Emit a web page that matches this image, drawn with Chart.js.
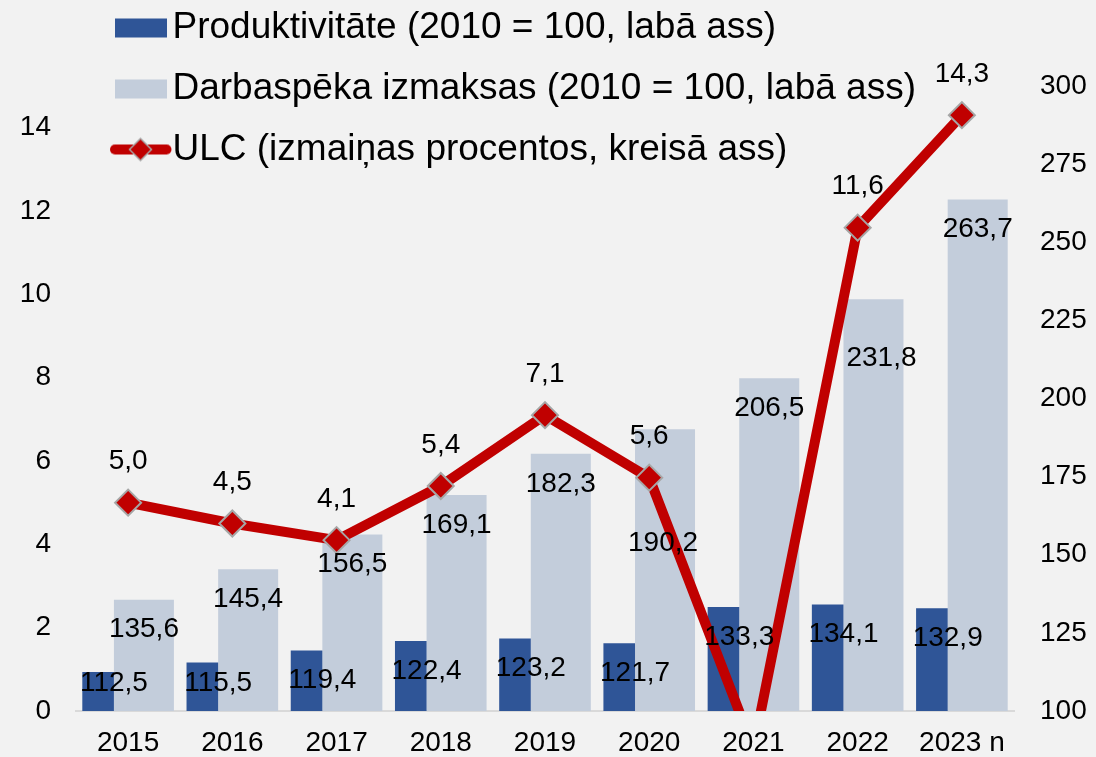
<!DOCTYPE html>
<html>
<head>
<meta charset="utf-8">
<script src="https://cdn.jsdelivr.net/npm/chart.js@4.4.1/dist/chart.umd.min.js"></script>
<style>
  html, body { margin: 0; padding: 0; background: #F2F2F2; }
  #wrap { width: 1096px; height: 757px; }
  canvas { display: block; }
</style>
</head>
<body>
<div id="wrap"><canvas id="c" width="1096" height="757"></canvas></div>
<script>
// ---- data ----
const categories = ['2015', '2016', '2017', '2018', '2019', '2020', '2021', '2022', '2023 n'];
const productivity = [112.5, 115.5, 119.4, 122.4, 123.2, 121.7, 133.3, 134.1, 132.9];
const labourCost = [135.6, 145.4, 156.5, 169.1, 182.3, 190.2, 206.5, 231.8, 263.7];
const ulcChange = [5.0, 4.5, 4.1, 5.4, 7.1, 5.6, -0.9, 11.6, 14.3];
const leftTicks = [0, 2, 4, 6, 8, 10, 12, 14];
const rightTicks = [100, 125, 150, 175, 200, 225, 250, 275, 300];
const seriesNames = [
  'Produktivitāte (2010 = 100, labā ass)',
  'Darbaspēka izmaksas (2010 = 100, labā ass)',
  'ULC (izmaiņas procentos, kreisā ass)'
];

// ---- styles ----
const FONT = '"Liberation Sans", Arial, sans-serif';
const DARK = '#2F5597', LIGHT = '#C3CDDB', RED = '#C00000', EDGE = '#A6A6A6';
Chart.defaults.color = '#000';
Chart.defaults.font.family = FONT;

// manual label nudges for light bars (as placed in the original)
const lightLabelNudge = { '2020': [-2, 84], '2022': [8, 29] };

function makeIcon(kind) {
  const c = document.createElement('canvas');
  c.width = 90; c.height = 30;
  const g = c.getContext('2d');
  if (kind === 'line') {
    g.strokeStyle = RED; g.lineWidth = 10; g.lineCap = 'round';
    g.beginPath(); g.moveTo(33, 15); g.lineTo(84.5, 15); g.stroke();
    const cx = 58.5, cy = 15, r = 11;
    g.beginPath(); g.moveTo(cx - r, cy); g.lineTo(cx, cy - r); g.lineTo(cx + r, cy); g.lineTo(cx, cy + r); g.closePath();
    g.fillStyle = RED; g.fill(); g.strokeStyle = EDGE; g.lineWidth = 1.5; g.stroke();
  } else {
    g.fillStyle = kind === 'dark' ? DARK : LIGHT;
    g.fillRect(33, 6, 52, 19);
  }
  return c;
}
const legendIcons = [makeIcon('dark'), makeIcon('light'), makeIcon('line')];
const legendDatasetIndex = [1, 2, 0];

// centre the (unequal-width) bar pair on its category
const barGroupCentering = {
  id: 'barGroupCentering',
  afterDatasetsUpdate(chart) {
    const metas = chart.getSortedVisibleDatasetMetas().filter(m => m.type === 'bar');
    if (metas.length < 2) return;
    const xs = chart.scales.x;
    metas[0].data.forEach((el, i) => {
      const other = metas[1].data[i];
      const left = el.x - el.width / 2;
      const right = other.x + other.width / 2;
      const shift = xs.getPixelForValue(i) - (left + right) / 2;
      metas.forEach(m => { m.data[i].x += shift; });
    });
  }
};

// let the legend overlap the plot (Excel-style floating legend)
const legendOverlay = {
  id: 'legendOverlay',
  afterLayout(chart) {
    const lg = chart.legend;
    if (lg) { lg.bottom = chart.height; lg.height = lg.bottom - lg.top; }
  }
};

const valueLabels = {
  id: 'valueLabels',
  afterDatasetsDraw(chart) {
    const { ctx, chartArea } = chart;
    ctx.save();
    ctx.font = '28px ' + FONT;
    ctx.fillStyle = '#000';
    ctx.textAlign = 'center';
    ctx.textBaseline = 'middle';
    const fmt = v => v.toFixed(1).replace('.', ',');
    chart.data.datasets.forEach((ds, di) => {
      const meta = chart.getDatasetMeta(di);
      meta.data.forEach((el, i) => {
        const v = ds.data[i];
        let x, y;
        if (di === 0) {
          if (el.y > chartArea.bottom) return;
          x = el.x; y = el.y - 41;
        } else if (di === 1) {
          x = el.x + el.width / 2;
          y = Math.min(el.y + 30, chartArea.bottom - 28);
        } else {
          const n = lightLabelNudge[categories[i]] || [0, 0];
          x = el.x + n[0]; y = el.y + 30 + n[1];
        }
        ctx.fillText(fmt(v), x, y);
      });
    });
    ctx.restore();
  }
};

new Chart(document.getElementById('c'), {
  data: {
    labels: categories,
    datasets: [
      {
        type: 'line', label: seriesNames[2], data: ulcChange, yAxisID: 'yL', order: 0,
        borderColor: RED, borderWidth: 10, borderJoinStyle: 'round', tension: 0, fill: false,
        pointStyle: 'rectRot', pointRadius: 13, pointBackgroundColor: RED,
        pointBorderColor: EDGE, pointBorderWidth: 2
      },
      {
        type: 'bar', label: seriesNames[0], data: productivity, yAxisID: 'yR', order: 1,
        backgroundColor: DARK, categoryPercentage: 0.879, barPercentage: 0.69
      },
      {
        type: 'bar', label: seriesNames[1], data: labourCost, yAxisID: 'yR', order: 2,
        backgroundColor: LIGHT, categoryPercentage: 0.879, barPercentage: 1.31
      }
    ]
  },
  options: {
    responsive: false,
    animation: false,
    devicePixelRatio: 1,
    layout: { padding: { top: -15, left: 0, right: 0, bottom: 0 } },
    scales: {
      x: {
        type: 'category', offset: true,
        grid: { display: false, drawTicks: false },
        border: { display: true, color: '#D9D9D9', width: 2 },
        ticks: { font: { size: 28 }, padding: 15, maxRotation: 0, autoSkip: false },
        afterFit: s => { s.height = 46; }
      },
      yL: {
        type: 'linear', position: 'left', min: 0, max: 15,
        grid: { display: false, drawTicks: false },
        border: { display: false },
        ticks: { font: { size: 28 }, padding: 25 },
        afterBuildTicks: s => { s.ticks = leftTicks.map(v => ({ value: v })); },
        afterFit: s => { s.width = 76; }
      },
      yR: {
        type: 'linear', position: 'right', min: 100, max: 300,
        grid: { display: false, drawTicks: false },
        border: { display: false },
        ticks: { font: { size: 28 }, padding: 26 },
        afterBuildTicks: s => { s.ticks = rightTicks.map(v => ({ value: v })); },
        afterFit: s => { s.width = 82; }
      }
    },
    plugins: {
      tooltip: { enabled: false },
      legend: {
        position: 'top', align: 'start', fullSize: false, maxHeight: 101,
        labels: {
          usePointStyle: true, pointStyleWidth: 54, padding: 24,
          font: { size: 37 }, color: '#000',
          generateLabels: () => seriesNames.map((t, i) => ({
            text: t, pointStyle: legendIcons[i], fillStyle: 'transparent',
            strokeStyle: 'transparent', lineWidth: 0, hidden: false,
            datasetIndex: legendDatasetIndex[i]
          }))
        }
      }
    }
  },
  plugins: [barGroupCentering, legendOverlay, valueLabels]
});
</script>
</body>
</html>
